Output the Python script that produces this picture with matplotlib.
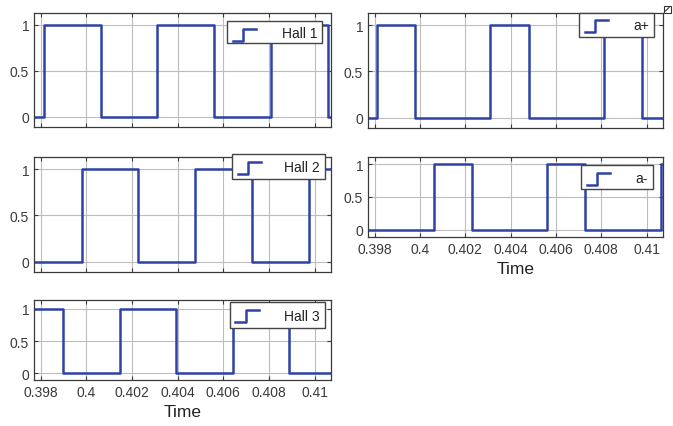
import matplotlib
matplotlib.use("Agg")
import matplotlib.pyplot as plt
from matplotlib.patches import Rectangle
from matplotlib.lines import Line2D

plt.rcParams['font.family'] = ['Liberation Sans', 'DejaVu Sans']

# ---- data (edge times and levels, step 'post') ----
hall1_t = [0.3977, 0.39814, 0.40063, 0.40311, 0.40558, 0.40809, 0.4106, 0.4108]
hall1_v = [0, 1, 0, 1, 0, 1, 0, 0]
hall2_t = [0.3977, 0.3998, 0.40228, 0.40478, 0.40726, 0.40975, 0.4108]
hall2_v = [0, 1, 0, 1, 0, 1, 1]
hall3_t = [0.3977, 0.39899, 0.40146, 0.40395, 0.40643, 0.4089, 0.4108]
hall3_v = [1, 0, 1, 0, 1, 0, 0]
ap_t = [0.3977, 0.39812, 0.39979, 0.4031, 0.40479, 0.4081, 0.40979, 0.4108]
ap_v = [0, 1, 0, 1, 0, 1, 0, 0]
am_t = [0.3977, 0.4006, 0.40228, 0.4056, 0.40729, 0.41063, 0.4108]
am_v = [0, 1, 0, 1, 0, 1, 1]

labels = ["Hall 1", "Hall 2", "Hall 3", "a+", "a-"]
xticks = [0.398, 0.400, 0.402, 0.404, 0.406, 0.408, 0.410]
xticklabels = ["0.398", "0.4", "0.402", "0.404", "0.406", "0.408", "0.41"]
yticks = [0, 0.5, 1]
yticklabels = ["0", "0.5", "1"]
xlabel = "Time"

W, H = 673, 427
fig = plt.figure(figsize=(W / 100, H / 100), dpi=100)

LINE = '#2E42A6'
FRAME = '#3a3a3a'


def px_axes(x0, y0, x1, y1):
    return fig.add_axes([x0 / W, 1 - y1 / H, (x1 - x0) / W, (y1 - y0) / H])


def legend_box(x0, y0, x1, y1, text):
    fx = lambda x: x / W
    fy = lambda y: 1 - y / H
    fig.add_artist(Rectangle((fx(x0), fy(y1)), (x1 - x0) / W, (y1 - y0) / H,
                             transform=fig.transFigure, facecolor='white',
                             edgecolor='#444444', linewidth=1.0, zorder=10))
    hi, lo = y0 + 7.5, y0 + 19.5
    xs = [x0 + 5.5, x0 + 16, x0 + 16, x0 + 28.5]
    ys = [lo, lo, hi, hi]
    fig.add_artist(Line2D([fx(x) for x in xs], [fy(y) for y in ys],
                          transform=fig.transFigure, color=LINE, lw=1.8, zorder=11))
    fig.text(fx(x1 - 5), fy((y0 + y1) / 2 + 1), text, ha='right', va='center',
             fontsize=10, color='#222222', zorder=12)


def setup(ax, t, v, ylim, show_x):
    ax.step(t, v, where='post', color=LINE, lw=1.8)
    ax.set_xlim(0.39771, 0.41072)
    ax.set_ylim(*ylim)
    ax.set_xticks(xticks)
    ax.set_yticks(yticks)
    ax.set_yticklabels(yticklabels, fontsize=10, color='#333333')
    if show_x:
        ax.set_xticklabels(xticklabels, fontsize=10, color='#333333')
        ax.set_xlabel(xlabel, fontsize=12.5, color='#222222', labelpad=4)
    else:
        ax.set_xticklabels([])
    ax.grid(True, color='#bdbdbd', lw=0.8)
    ax.set_axisbelow(True)
    ax.tick_params(direction='in', length=3, width=0.8, top=True, right=True,
                   colors=FRAME, pad=3.5)
    for s in ax.spines.values():
        s.set_color(FRAME)
        s.set_linewidth(0.9)


ax1 = px_axes(34, 14, 331, 128)
setup(ax1, hall1_t, hall1_v, (-0.11, 1.13), False)
ax2 = px_axes(34, 158, 331, 273)
setup(ax2, hall2_t, hall2_v, (-0.11, 1.13), False)
ax3 = px_axes(34, 301, 331, 381)
setup(ax3, hall3_t, hall3_v, (-0.105, 1.14), True)
ax4 = px_axes(368, 14, 663, 129)
setup(ax4, ap_t, ap_v, (-0.11, 1.13), False)
ax5 = px_axes(368, 158, 663, 238)
setup(ax5, am_t, am_v, (-0.11, 1.11), True)

legend_box(227, 22, 322, 43.5, labels[0])
legend_box(232, 155, 325, 179.5, labels[1])
legend_box(230, 303, 325, 328.5, labels[2])
legend_box(579, 13.5, 654, 37.5, labels[3])
legend_box(581, 166, 653, 189.5, labels[4])

# small corner icon
fig.add_artist(Rectangle((663.5 / W, 1 - 14 / H), 7 / W, 7 / H, transform=fig.transFigure,
                         facecolor='white', edgecolor='#333333', lw=0.8))
fig.add_artist(Line2D([665.5 / W, 669 / W], [1 - 12 / H, 1 - 8.5 / H],
                      transform=fig.transFigure, color='#333333', lw=0.8))

fig.savefig('out.png', dpi=100, facecolor='white')
